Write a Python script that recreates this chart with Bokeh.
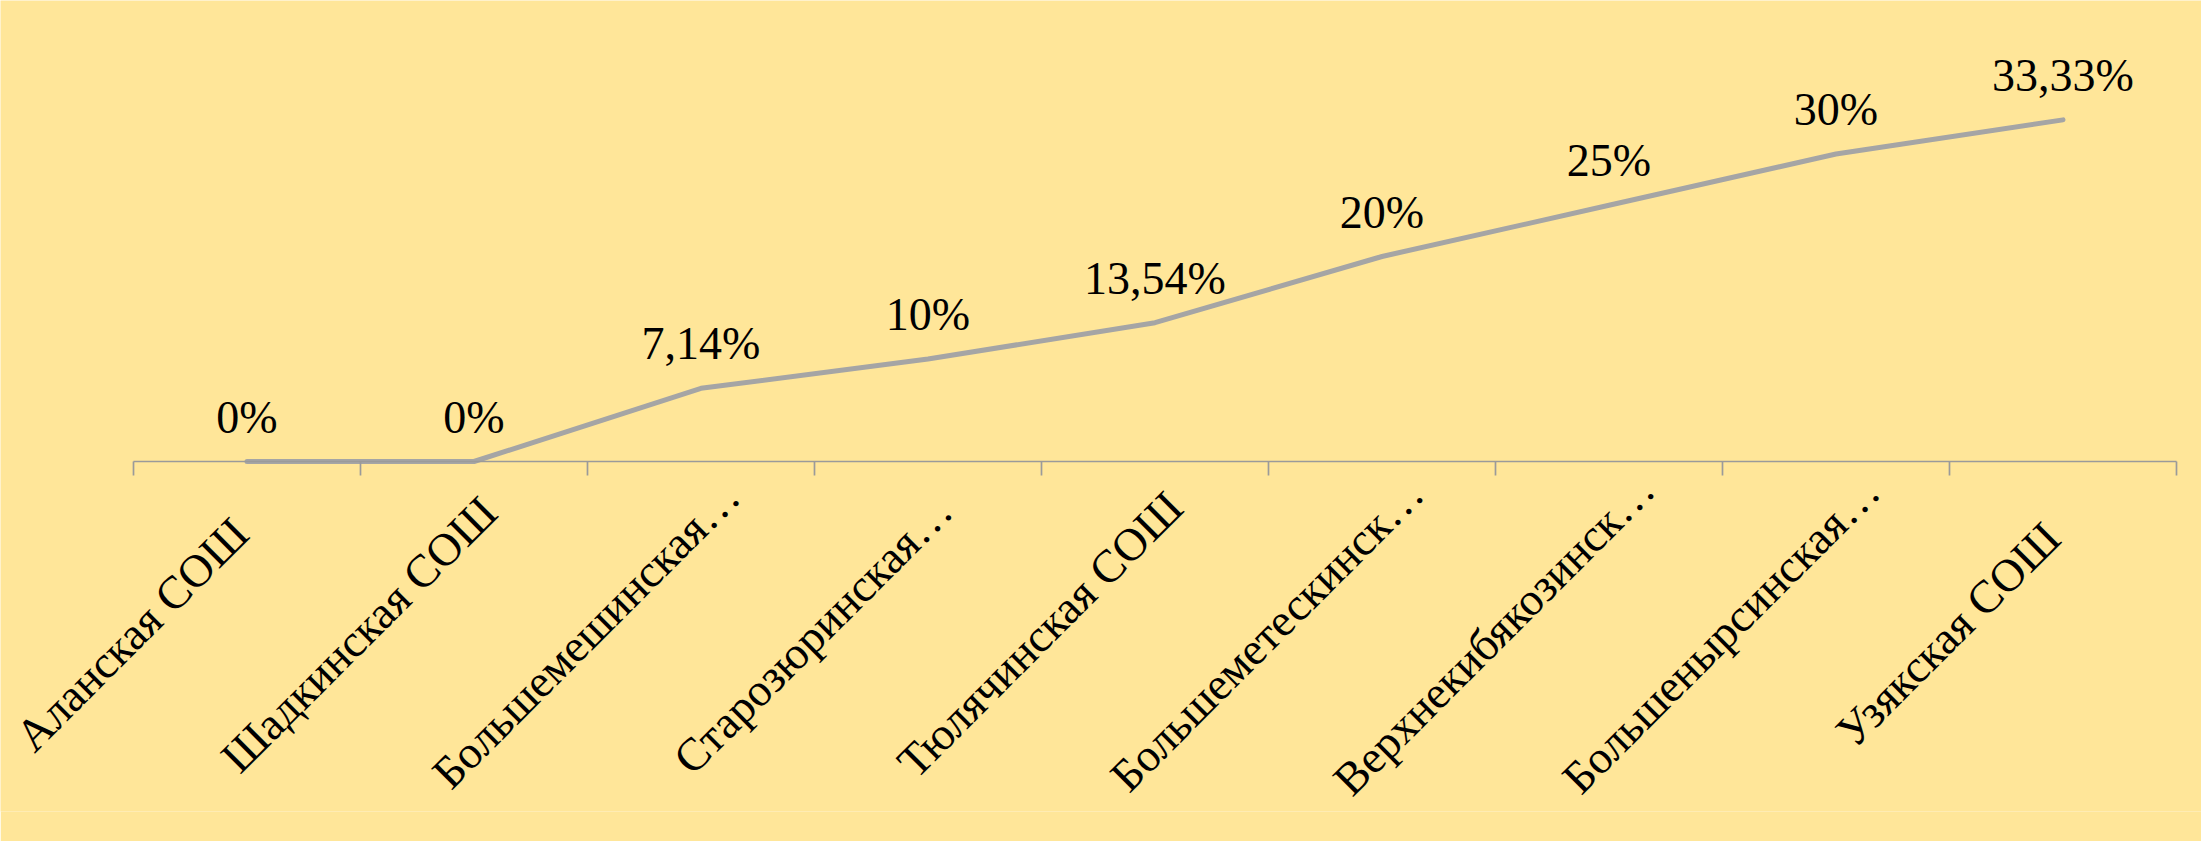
import math
from bokeh.plotting import figure
from bokeh.models import (ColumnDataSource, Range1d, LinearAxis,
                          FixedTicker, LabelSet)
from bokeh.core.properties import value
from bokeh.embed import file_html
from bokeh.resources import INLINE

# ---- data ----
categories = ["Аланская СОШ", "Шадкинская СОШ", "Большемешинская…",
              "Старозюринская…", "Тюлячинская СОШ", "Большеметескинск…",
              "Верхнекибякозинск…", "Большенырсинская…", "Узякская СОШ"]
values = [0, 0, 7.14, 10, 13.54, 20, 25, 30, 33.33]
value_labels = [("%g" % v).replace(".", ",") + "%" for v in values]

BG = "#FFE699"
FONT = "Liberation Serif"

n = len(categories)
slot_centres = [i + 0.5 for i in range(n)]
src = ColumnDataSource(dict(x=slot_centres, cat=categories, val=values,
                            lab=value_labels))

# layout geometry (pixels)
W, H = 2201, 841
SLOT = 227.0          # px per category
PX_PER_PCT = 10.25    # px per percent
LEFT, RIGHT = 133, 25  # space left/right of the category axis
BOTTOM = 30
AXIS_Y = 461          # axis position from top of figure
frame_h = H - BOTTOM

p = figure(width=W, height=H, output_backend="svg", toolbar_location=None,
           x_range=Range1d(-LEFT / SLOT, n + RIGHT / SLOT),
           y_range=Range1d(-(frame_h - AXIS_Y) / PX_PER_PCT, AXIS_Y / PX_PER_PCT),
           x_axis_location=None, y_axis_location=None,
           min_border_left=0, min_border_right=0,
           min_border_top=0, min_border_bottom=BOTTOM)
p.background_fill_color = BG
p.border_fill_color = BG
p.outline_line_color = None
p.xgrid.visible = False
p.ygrid.visible = False

# Excel-style category axis at 0 with ticks between categories
ax = LinearAxis(ticker=FixedTicker(ticks=list(range(n + 1))),
                fixed_location=0, bounds=(0, n),
                major_label_overrides={i: "" for i in range(n + 1)},
                axis_line_color="#9A9A9A", axis_line_width=1.7,
                major_tick_line_color="#9A9A9A", major_tick_line_width=1.7,
                major_tick_in=0, major_tick_out=14,
                minor_tick_in=0, minor_tick_out=0,
                major_label_standoff=0)
p.add_layout(ax, "below")

# the series line
p.line(x="x", y="val", source=src, line_color="#A5A5A5", line_width=5,
       line_cap="round", line_join="round")

# data labels
p.add_layout(LabelSet(x="x", y="val", text="lab", source=src,
                      text_font=value(FONT), text_font_size="46px",
                      text_color="black", text_align="center",
                      text_baseline="alphabetic", y_offset=29))

# rotated category labels
p.add_layout(LabelSet(x="x", y=0, text="cat", source=src,
                      text_font=value(FONT), text_font_size="46px",
                      text_color="black", text_align="center",
                      text_baseline="middle", angle=math.pi / 4,
                      x_offset=-115, y_offset=-173))

open("out.html", "w").write(file_html(p, INLINE))
